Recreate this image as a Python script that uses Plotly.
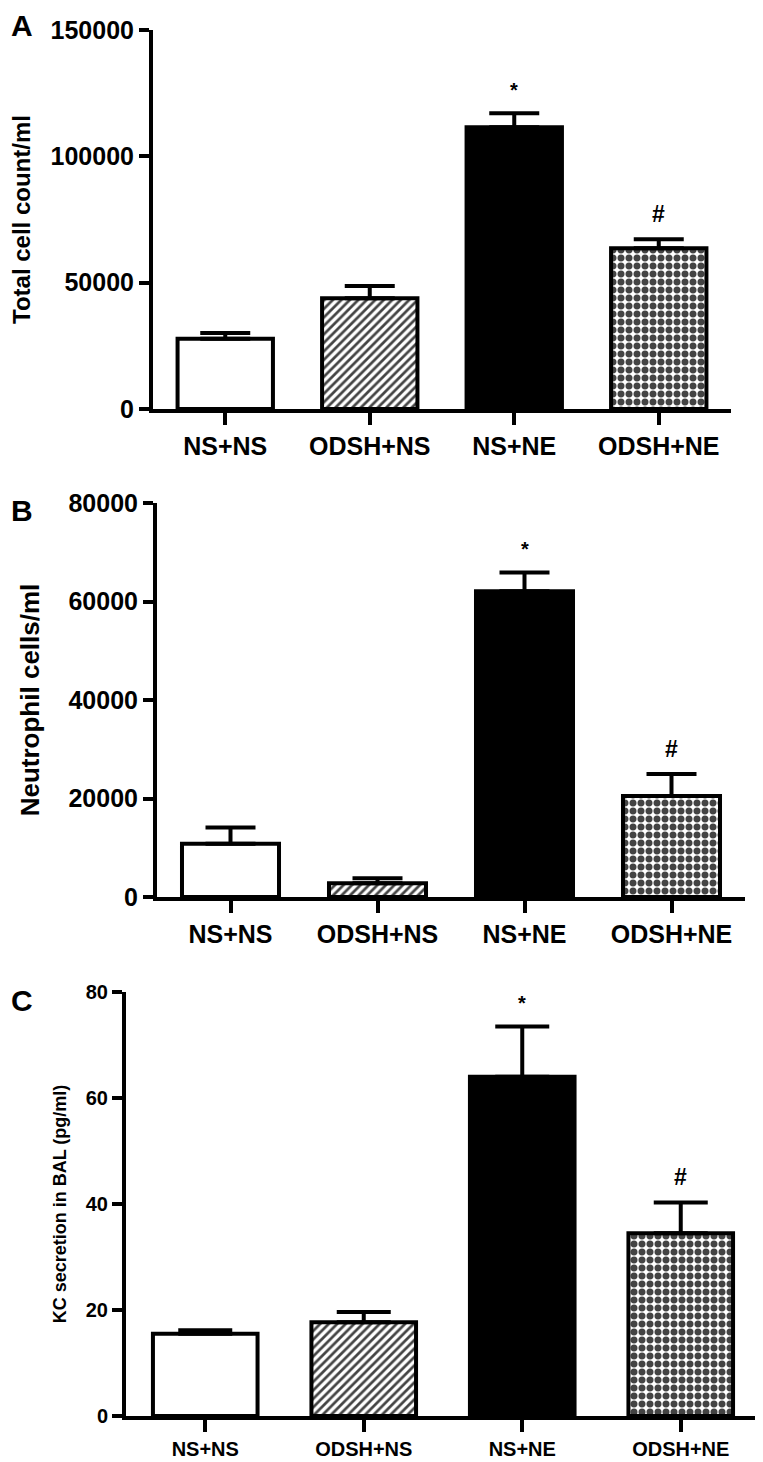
import plotly.graph_objects as go

groups = ["NS+NS", "ODSH+NS", "NS+NE", "ODSH+NE"]

total_mean = [27800, 43800, 111500, 63600]
total_sem = [2300, 4900, 5600, 3600]

neut_mean = [10800, 2800, 62100, 20500]
neut_sem = [3300, 1000, 3800, 4500]

kc_mean = [15.5, 17.7, 64.0, 34.5]
kc_sem = [0.7, 1.9, 9.5, 5.8]

sig = ["", "", "*", "#"]

fills = ["white", "white", "black", "white"]
shapes = ["", "/", "", "."]

FONT = "Liberation Sans, Arial, sans-serif"
W, H = 763, 1462
OFF = 8  # page body margin


def px(x):
    return (x - OFF) / W


def py(y):
    return 1 - (y - OFF) / H


fig = go.Figure()

panels = [
    dict(mean=total_mean, sem=total_sem, xa="x", ya="y",
         xdom=[px(153), px(731)], ydom=[py(409), py(30)],
         yr=[0, 150000], dt=50000, title="Total cell count/ml",
         tfs=24, fs=25, so=24, cap=25, letter="A", ly=py(25)),
    dict(mean=neut_mean, sem=neut_sem, xa="x2", ya="y2",
         xdom=[px(157), px(745)], ydom=[py(897), py(503)],
         yr=[0, 80000], dt=20000, title="Neutrophil cells/ml",
         tfs=26, fs=25, so=22, cap=25, letter="B", ly=py(510)),
    dict(mean=kc_mean, sem=kc_sem, xa="x3", ya="y3",
         xdom=[px(126), px(760)], ydom=[py(1416), py(992)],
         yr=[0, 80], dt=20, title="KC secretion in BAL (pg/ml)",
         tfs=18, fs=20, so=15, cap=27, letter="C", ly=py(1000)),
]

for i, p in enumerate(panels):
    fig.add_trace(go.Bar(
        x=groups, y=p["mean"], xaxis=p["xa"], yaxis=p["ya"],
        width=0.66, showlegend=False,
        marker=dict(color=fills,
                    line=dict(color="black", width=4),
                    pattern=dict(shape=shapes, fgcolor="black", bgcolor=fills, fgopacity=1,
                                 size=[8, 6, 8, 8], solidity=[0.3, 0.45, 0.3, 0.6])),
        error_y=dict(type="data", symmetric=False, array=p["sem"],
                     arrayminus=[0]*4, color="black", thickness=4, width=p["cap"]),
    ))
    sfx = "" if i == 0 else str(i + 1)
    fig.update_layout(**{
        "xaxis" + sfx: dict(domain=p["xdom"], anchor=p["ya"], range=[-0.5, 3.5],
                            automargin=False,
                            showline=True, linewidth=4, linecolor="black",
                            ticks="outside", ticklen=12, tickwidth=4, tickcolor="black",
                            showgrid=False, zeroline=False,
                            tickfont=dict(family=FONT, size=p["fs"], color="black", weight="bold")),
        "yaxis" + sfx: dict(domain=p["ydom"], anchor=p["xa"], range=p["yr"],
                            automargin=False,
                            dtick=p["dt"], tickformat="d",
                            showline=True, linewidth=4, linecolor="black",
                            ticks="outside", ticklen=10, tickwidth=4, tickcolor="black",
                            showgrid=False, zeroline=False,
                            tickfont=dict(family=FONT, size=p["fs"], color="black", weight="bold"),
                            title=dict(text=p["title"], standoff=p["so"],
                                       font=dict(family=FONT, size=p["tfs"], color="black", weight="bold"))),
    })
    fig.add_annotation(text=p["letter"], xref="paper", yref="paper", x=px(22), y=p["ly"],
                       xanchor="center", yanchor="middle", showarrow=False,
                       font=dict(family=FONT, size=30, color="black", weight="bold"))
    for g, m, s, t in zip(groups, p["mean"], p["sem"], sig):
        if t:
            fig.add_annotation(text=t, x=g, y=m + s, xref=p["xa"], yref=p["ya"],
                               yanchor="bottom", yshift=10, showarrow=False,
                               font=dict(family=FONT, size=20 if t == "*" else 23,
                                         color="black", weight="bold"))

fig.update_layout(width=W, height=H, margin=dict(l=0, r=0, t=0, b=0),
                  plot_bgcolor="white", paper_bgcolor="white", bargap=0.3)

fig.write_html("out.html")
